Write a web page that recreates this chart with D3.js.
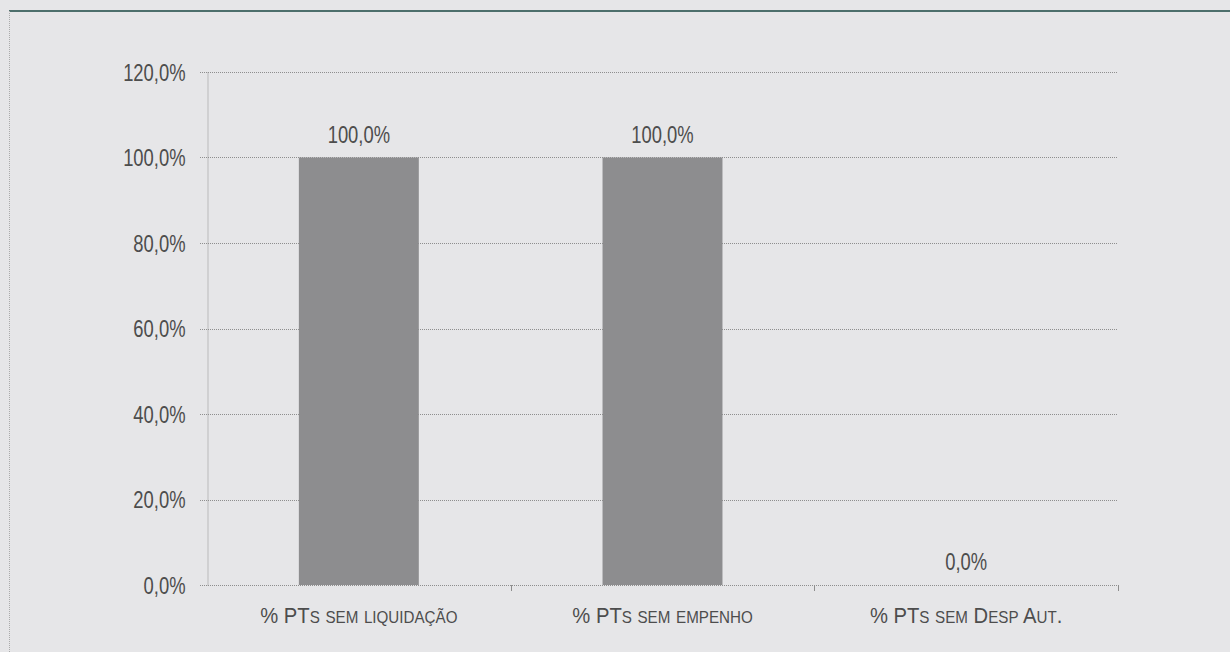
<!DOCTYPE html>
<html>
<head>
<meta charset="utf-8">
<script src="https://cdn.jsdelivr.net/npm/d3@7"></script>
<style>
  html, body { margin: 0; padding: 0; background: #e6e6e8; }
  svg { display: block; }
  text { font-family: "Liberation Sans", Arial, sans-serif; fill: #4d4d4d; }
</style>
</head>
<body>
<svg id="chart" width="1230" height="652"></svg>
<script>
const categories = ["% PTs sem liquidação", "% PTs sem empenho", "% PTs sem Desp Aut."];
const values = [100.0, 100.0, 0.0];
const yTicks = [0, 20, 40, 60, 80, 100, 120];

const W = 1230, H = 652;
const margin = {left: 207, right: 112, top: 72, bottom: 67};
const FS = 23, SX = 0.8;
const svg = d3.select("#chart");

svg.append("rect").attr("width", W).attr("height", H).attr("fill", "#e6e6e8");
// frame lines
svg.append("line").attr("x1", 9).attr("x2", W).attr("y1", 11).attr("y2", 11)
  .attr("stroke", "#4d6f6c").attr("stroke-width", 2);
svg.append("line").attr("x1", 9.5).attr("x2", 9.5).attr("y1", 11).attr("y2", H)
  .attr("stroke", "#aaa").attr("stroke-width", 1).attr("stroke-dasharray", "1,1");

const x = d3.scaleBand().domain(categories).range([margin.left, W - margin.right]);
const y = d3.scaleLinear().domain([0, 120]).range([H - margin.bottom, margin.top]);

const fmt = v => d3.format(".1f")(v).replace(".", ",") + "%";

// gridlines
svg.append("g").selectAll("line").data(yTicks).join("line")
  .attr("x1", margin.left - 7).attr("x2", W - margin.right)
  .attr("y1", d => Math.round(y(d)) + 0.5).attr("y2", d => Math.round(y(d)) + 0.5)
  .attr("stroke", "#8e8e8e").attr("stroke-width", 1).attr("stroke-dasharray", "1,1");

// y axis
const yAxis = svg.append("g").attr("transform", `translate(${margin.left + 0.5},0)`)
  .call(d3.axisLeft(y).tickValues(yTicks).tickFormat(fmt).tickSize(0).tickPadding(0));
yAxis.select(".domain").attr("stroke", "#8e8e8e").attr("stroke-dasharray", "1,1");
yAxis.selectAll("text")
  .attr("x", 0).attr("dy", null)
  .attr("transform", `translate(-22,8) scale(${SX},1)`)
  .attr("font-size", FS).attr("font-family", "'Liberation Sans', Arial, sans-serif")
  .style("fill", "#4d4d4d");

// bars
const barW = x.bandwidth() * 0.395;
svg.append("g").selectAll("rect").data(values).join("rect")
  .attr("x", (d, i) => x(categories[i]) + x.bandwidth() / 2 - barW / 2)
  .attr("width", barW)
  .attr("y", d => y(d))
  .attr("height", d => y(0) - y(d))
  .attr("fill", "#8d8d8f");

// x axis ticks
svg.append("g").selectAll("line").data(categories).join("line")
  .attr("x1", d => Math.round(x(d) + x.bandwidth()) + 0.5)
  .attr("x2", d => Math.round(x(d) + x.bandwidth()) + 0.5)
  .attr("y1", y(0)).attr("y2", y(0) + 6)
  .attr("stroke", "#8e8e8e");

// category labels (small caps, built manually)
function smallCaps(sel, text, big, small) {
  const parts = [];
  for (const ch of text) {
    const isLower = ch !== ch.toUpperCase();
    const size = isLower ? small : big;
    const c = isLower ? ch.toUpperCase() : ch;
    if (parts.length && parts[parts.length - 1].size === size) parts[parts.length - 1].t += c;
    else parts.push({t: c, size});
  }
  sel.selectAll("tspan").data(parts).join("tspan")
    .attr("font-size", p => p.size).text(p => p.t);
}
svg.append("g").selectAll("text").data(categories).join("text")
  .attr("transform", d => `translate(${x(d) + x.bandwidth() / 2},623) scale(0.92,1)`)
  .attr("text-anchor", "middle")
  .each(function(d) { smallCaps(d3.select(this), d, 22, 16.5); });

// value labels
svg.append("g").selectAll("text").data(values).join("text")
  .attr("transform", (d, i) => `translate(${x(categories[i]) + x.bandwidth() / 2},${y(d) - 15}) scale(${SX},1)`)
  .attr("text-anchor", "middle")
  .attr("font-size", FS)
  .text(d => fmt(d));
</script>
</body>
</html>
